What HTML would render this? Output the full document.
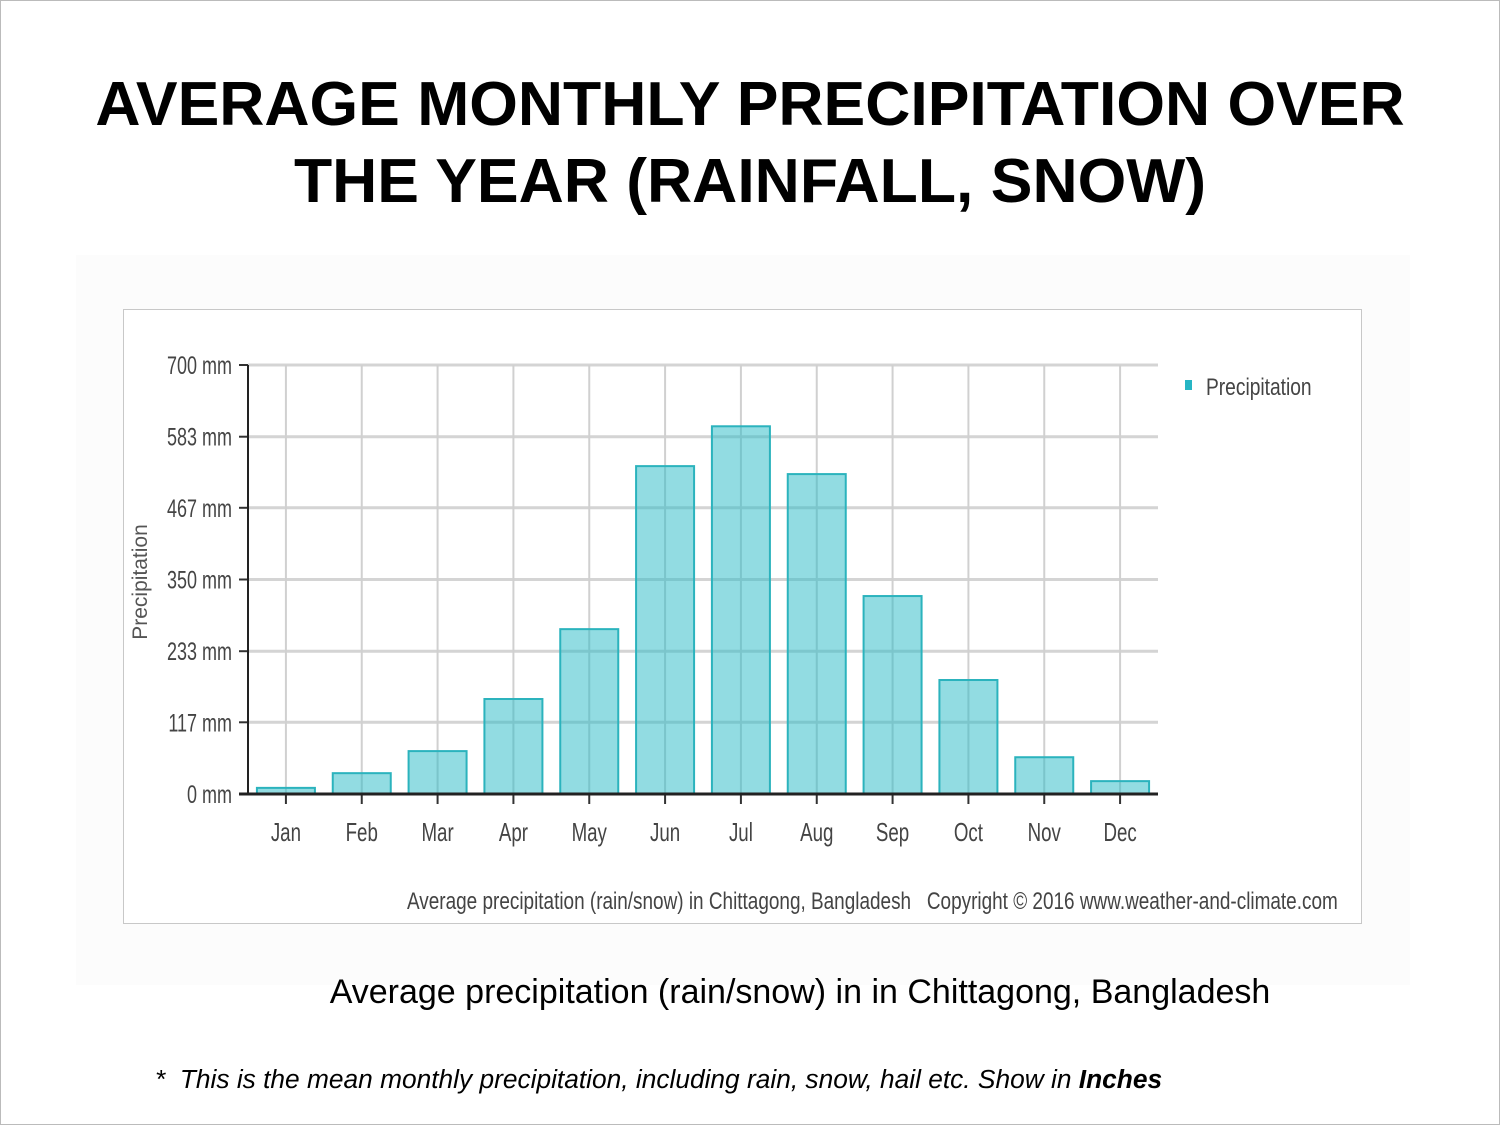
<!DOCTYPE html>
<html><head><meta charset="utf-8"><style>
body{margin:0;width:1500px;height:1125px;background:#fff;position:relative;overflow:hidden;font-family:"Liberation Sans",sans-serif}
#frame{position:absolute;left:0;top:0;width:1498px;height:1123px;border:1px solid #bbb}
h1{position:absolute;left:0;top:66px;width:1500px;margin:0;text-align:center;font-size:62.5px;line-height:77px;font-weight:bold;color:#000}
#cap{position:absolute;left:0;top:973px;width:1600px;text-align:center;font-family:"Liberation Sans","DejaVu Sans",sans-serif;font-size:34px;color:#000}
#note{position:absolute;left:155px;top:1064px;font-style:italic;font-size:26.3px;color:#000}
svg{position:absolute;left:0;top:0}
</style></head><body>
<div id="frame"></div>
<h1>AVERAGE MONTHLY PRECIPITATION OVER<br>THE YEAR (RAINFALL, SNOW)</h1>
<svg id="chart" width="1500" height="1125">
<rect x="76" y="255" width="1334" height="730" fill="#fcfcfc"/>
<rect x="123.5" y="309.5" width="1238" height="614" fill="#fff" stroke="#c8c8c8"/>
<g id="grid"></g><g id="bars"></g><g id="axes"></g>
<text x="0" y="0" transform="translate(147,582) rotate(-90)" text-anchor="middle" font-size="21" fill="#555">Precipitation</text>
<rect x="1185" y="380" width="7" height="10" fill="#26b5c4"/>
<text x="1206" y="395" font-size="24" fill="#444" transform="translate(1206,0) scale(0.8,1) translate(-1206,0)">Precipitation</text>
<text x="407" y="909" font-size="24" fill="#444" transform="translate(407,0) scale(0.79,1) translate(-407,0)">Average precipitation (rain/snow) in Chittagong, Bangladesh &#160;&#160;Copyright © 2016 www.weather-and-climate.com</text>
</svg>
<div id="cap">Average precipitation (rain/snow) in in Chittagong, Bangladesh</div>
<div id="note">*&nbsp; This is the mean monthly precipitation, including rain, snow, hail etc. Show in <b>Inches</b></div>
<script>
const months=["Jan","Feb","Mar","Apr","May","Jun","Jul","Aug","Sep","Oct","Nov","Dec"];
const precipitation=[10,34,70,155,269,535,600,522,323,186,60,21];
const yTicks=[0,117,233,350,467,583,700];
const yTickLabels=["0 mm","117 mm","233 mm","350 mm","467 mm","583 mm","700 mm"];
const X0=248,X1=1158,Y0=794,Y1=365,YMAX=700;
const band=(X1-X0)/months.length;
const xC=i=>X0+band*(i+0.5);
const yS=v=>Y0-(v/YMAX)*(Y0-Y1);
const NS="http://www.w3.org/2000/svg";
function mk(p,t,a){const e=document.createElementNS(NS,t);for(const k in a)e.setAttribute(k,a[k]);p.appendChild(e);return e;}
const grid=document.getElementById('grid'),bars=document.getElementById('bars'),axes=document.getElementById('axes');
yTicks.forEach((v,i)=>{
 const l=mk(grid,'line',{x1:X0,x2:X1,y1:yS(v),y2:yS(v),stroke:'#d4d4d4','stroke-width':3});
 
 
 const t=mk(axes,'line',{x1:X0-9,x2:X0,y1:yS(v),y2:yS(v),stroke:'#333','stroke-width':2});
 
 
 const tx=mk(axes,'text',{x:232,y:yS(v)+9,'text-anchor':'end','font-size':25,fill:'#444',transform:`translate(232,0) scale(0.72,1) translate(-232,0)`});
 tx.textContent=yTickLabels[i];
 
 
});
months.forEach((m,i)=>{
 const g=mk(grid,'line',{x1:xC(i),x2:xC(i),y1:Y1,y2:Y0,stroke:'#d0d0d0','stroke-width':2});
 
 
 const b=mk(bars,'rect',{x:xC(i)-29,y:yS(precipitation[i]),width:58,height:Y0-yS(precipitation[i]),fill:'rgba(38,186,198,0.5)',stroke:'#2bb3bd','stroke-width':2});
 
 
 const t=mk(axes,'line',{x1:xC(i),x2:xC(i),y1:Y0,y2:Y0+10,stroke:'#333','stroke-width':2});
 
 
 const tx=mk(axes,'text',{x:xC(i),y:841,'text-anchor':'middle','font-size':26,fill:'#444',transform:`translate(${xC(i)},0) scale(0.72,1) translate(${-xC(i)},0)`});
 tx.textContent=m;
 
 
});
const ya=mk(axes,'line',{x1:X0,x2:X0,y1:Y1,y2:Y0,stroke:'#222','stroke-width':2});


const xa=mk(axes,'line',{x1:X0-9,x2:X1,y1:Y0,y2:Y0,stroke:'#222','stroke-width':3});


</script>
</body></html>
